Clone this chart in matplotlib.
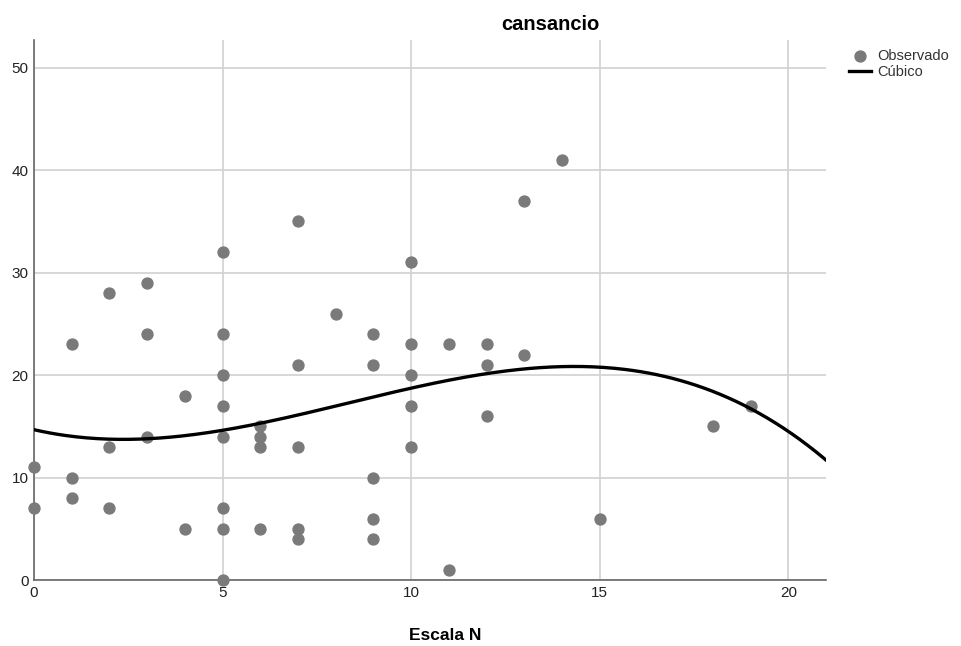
import numpy as np
import matplotlib
matplotlib.use("Agg")
import matplotlib.pyplot as plt

# escala N (x) vs cansancio (y)
escala_n = [0, 0,
            1, 1, 1,
            2, 2, 2,
            3, 3, 3,
            4, 4,
            5, 5, 5, 5, 5, 5, 5, 5,
            6, 6, 6, 6,
            7, 7, 7, 7, 7,
            8,
            9, 9, 9, 9, 9,
            10, 10, 10, 10, 10,
            11, 11,
            12, 12, 12,
            13, 13,
            14,
            15,
            18,
            19]
cansancio = [11, 7,
             23, 10, 8,
             28, 13, 7,
             29, 24, 14,
             18, 5,
             32, 24, 20, 17, 14, 7, 5, 0,
             15, 14, 13, 5,
             35, 21, 13, 5, 4,
             26,
             24, 21, 10, 6, 4,
             31, 23, 20, 17, 13,
             23, 1,
             23, 21, 16,
             37, 22,
             41,
             6,
             15,
             17]

x_ticks = [0, 5, 10, 15, 20]
y_ticks = [0, 10, 20, 30, 40, 50]

plt.rcParams['font.family'] = ['Liberation Sans', 'DejaVu Sans']

fig = plt.figure(figsize=(9.62, 6.46), dpi=100)
ax = fig.add_axes([34/962, 66/646, 792/962, 540/646])

# cubic fit of the observed points
coef = np.polyfit(escala_n, cansancio, 3)
xs = np.linspace(0, 21, 300)
ys = np.polyval(coef, xs)

ax.grid(True, color='#d4d4d4', linewidth=1.3)
ax.set_axisbelow(True)
obs = ax.scatter(escala_n, cansancio, s=62, color='#7a7a7a', zorder=3, clip_on=False)
cub, = ax.plot(xs, ys, color='black', linewidth=2.4, zorder=4)

ax.set_xlim(0, 21)
ax.set_ylim(0, 52.7)
ax.set_xticks(x_ticks)
ax.set_yticks(y_ticks)
ax.tick_params(length=0, labelsize=11, colors='#222222', pad=4)
for s in ['top', 'right']:
    ax.spines[s].set_visible(False)
for s in ['left', 'bottom']:
    ax.spines[s].set_color('#666666')
    ax.spines[s].set_linewidth(1.2)

fig.text(550/962, 1 - 24/646, 'cansancio', ha='center', va='center',
         fontsize=14.5, fontweight='bold')
fig.text(445/962, 1 - 635/646, 'Escala N', ha='center', va='center',
         fontsize=12.5, fontweight='bold')

leg = fig.legend([obs, cub], ['Observado', 'Cúbico'], loc='upper left',
                 bbox_to_anchor=(842/962, 1 - 42/646), frameon=False,
                 fontsize=10.5, handlelength=1.5, handletextpad=0.4,
                 labelspacing=0.15, borderpad=0)
for t in leg.get_texts():
    t.set_color('#333333')

fig.savefig('out.png', dpi=100)
